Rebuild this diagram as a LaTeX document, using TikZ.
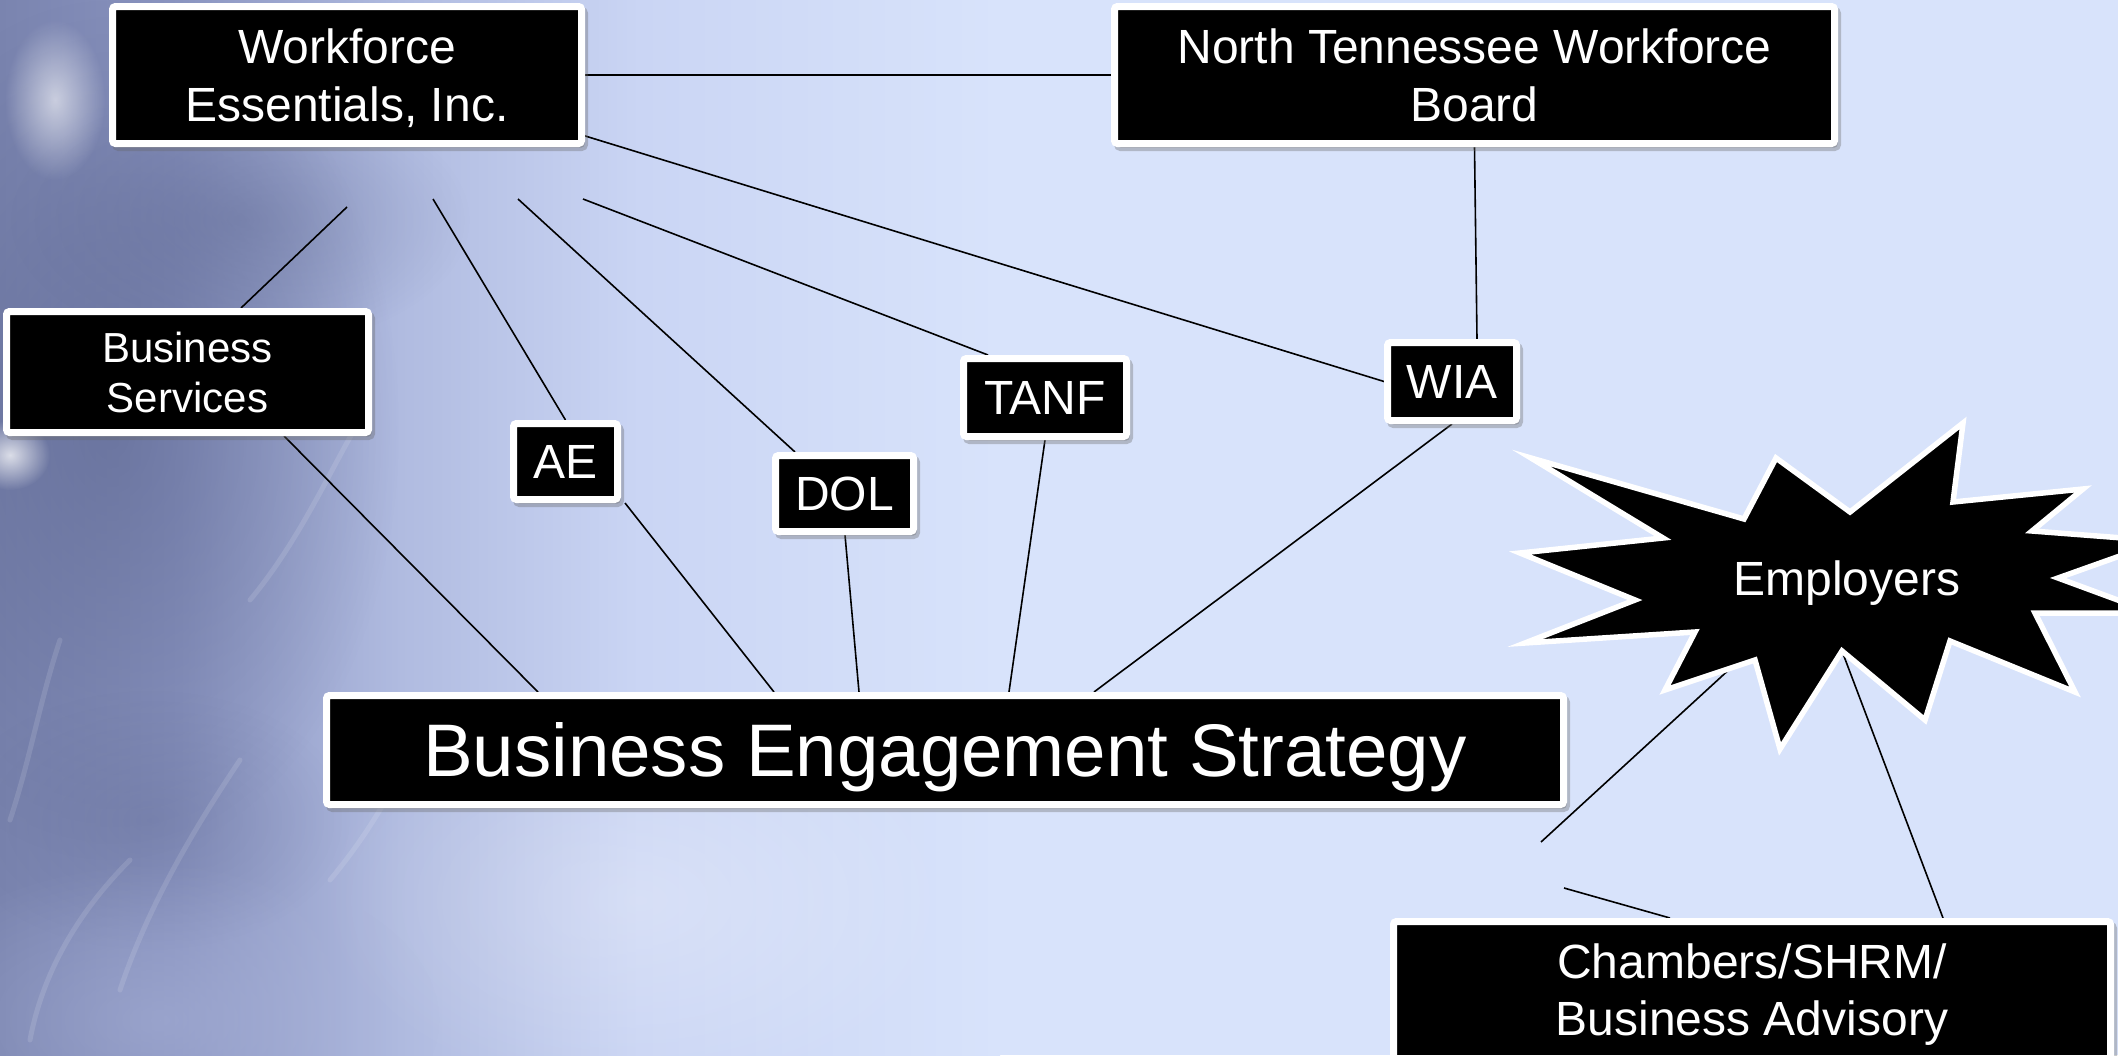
\documentclass[tikz,border=0pt]{standalone}
\usepackage{fontspec}
\setmainfont{Liberation Sans}
\usetikzlibrary{shadows,fadings,calc}

\definecolor{bgbase}{RGB}{216,227,251}
\definecolor{washA}{RGB}{122,132,175}
\definecolor{washB}{RGB}{138,148,192}
\definecolor{washC}{RGB}{176,187,224}
\definecolor{washD}{RGB}{202,213,244}
\definecolor{slate}{RGB}{88,98,140}
\definecolor{mist}{RGB}{170,180,218}

\pgfdeclarehorizontalshading{leftwash}{100bp}{color(0bp)=(washA); color(25bp)=(washA); color(34bp)=(washB); color(45bp)=(washC); color(57bp)=(washD); color(75bp)=(bgbase); color(100bp)=(bgbase)}
\tikzfading[name=softblob, inner color=transparent!0, outer color=transparent!100]

\pgfdeclarelayer{bgimg}
\pgfdeclarelayer{links}
\pgfsetlayers{bgimg,links,main}

\tikzset{
  box/.style={rectangle, rounded corners=3pt, fill=black, draw=white, line width=7pt,
    text=white, inner sep=0pt, align=center,
    font=\fontsize{48pt}{58pt}\selectfont,
    drop shadow={shadow xshift=3pt, shadow yshift=-4pt, opacity=.35, fill=black!60, draw=black!60}},
  oneline/.style={text height=34.4pt, text depth=0pt},
  twoline/.style={text depth=0pt},
  conn/.style={draw=black, line width=1.6pt},
  burst/.style={fill=black, draw=white, line width=5.5pt, line join=miter},
  texture/.style={draw=white, line width=5pt, line cap=round, opacity=.12},
}

\begin{document}
\begin{tikzpicture}[x=1pt,y=-1pt]
\useasboundingbox (0,0) rectangle (2118,1055);

% backdrop: pale blue with a darker slate wash on the left
\begin{pgfonlayer}{bgimg}
  \fill[bgbase] (0,0) rectangle (2118,1055);
  \shade[shading=leftwash] (0,0) rectangle (1000,1055);
  \fill[slate, path fading=softblob, fill opacity=.55] (110,430) ellipse (290 and 430);
  \fill[slate, path fading=softblob, fill opacity=.35] (240,220) ellipse (230 and 130);
  \fill[slate, path fading=softblob, fill opacity=.3] (150,820) ellipse (200 and 130);
  \fill[mist, path fading=softblob, fill opacity=.5] (160,1020) ellipse (280 and 160);
  \fill[white, path fading=softblob, fill opacity=.6] (55,100) ellipse (50 and 80);
  \fill[white, path fading=softblob, fill opacity=.75] (10,455) ellipse (40 and 35);
  \fill[white, path fading=softblob, fill opacity=.25] (640,900) ellipse (320 and 200);
  % faint strokes of the photo texture
  \draw[texture] (30,1040) .. controls (45,960) and (90,900) .. (130,860);
  \draw[texture] (120,990) .. controls (150,900) and (200,820) .. (240,760);
  \draw[texture] (250,600) .. controls (300,540) and (330,470) .. (360,420);
  \draw[texture] (60,640) .. controls (40,700) and (30,760) .. (10,820);
  \draw[texture] (330,880) .. controls (380,820) and (410,760) .. (430,700);
\end{pgfonlayer}

% boxes
\node[box, twoline, minimum width=469pt, minimum height=137pt] (wei) at (347,75) {Workforce\\Essentials, Inc.};
\node[box, twoline, minimum width=720pt, minimum height=137pt] (ntwb) at (1474.5,75) {North Tennessee Workforce\\Board};
\node[box, twoline, minimum width=362pt, minimum height=121pt, font=\fontsize{42pt}{50pt}\selectfont] (bs) at (187.5,372) {Business\\Services};
\node[box, oneline, minimum width=104pt, minimum height=76pt] (ae) at (565.5,461.5) {AE};
\node[box, oneline, minimum width=138pt, minimum height=76pt] (dol) at (844.5,493.5) {DOL};
\node[box, oneline, minimum width=163pt, minimum height=78pt] (tanf) at (1045,397.5) {TANF};
\node[box, oneline, minimum width=129pt, minimum height=78pt] (wia) at (1452,381.5) {WIA};
\node[box, minimum width=1237pt, minimum height=109pt, text height=53.4pt, text depth=0pt,
  font=\fontsize{74.5pt}{88pt}\selectfont] (bes) at (945,750) {Business Engagement Strategy};
\node[box, twoline, minimum width=717pt, minimum height=137pt, font=\fontsize{48pt}{57pt}\selectfont] (chm) at (1752,990) {Chambers/SHRM/\\Business Advisory};

% employers burst
\coordinate (s1) at (1531,458);  \coordinate (s2) at (1744,519);
\coordinate (s3) at (1776,458);  \coordinate (s4) at (1850,512);
\coordinate (s5) at (1963,423);  \coordinate (s6) at (1953,502);
\coordinate (s7) at (2083,489);  \coordinate (s8) at (2032,531);
\coordinate (s9) at (2162,541);  \coordinate (s10) at (2058,578);
\coordinate (s11) at (2153,613); \coordinate (s12) at (2035,613);
\coordinate (s13) at (2075,692); \coordinate (s14) at (1950,641);
\coordinate (s15) at (1925,720); \coordinate (s16) at (1842,651);
\coordinate (s17) at (1780,749); \coordinate (s18) at (1755,660);
\coordinate (s19) at (1665,690); \coordinate (s20) at (1695,632);
\coordinate (s21) at (1525,643); \coordinate (s22) at (1635,600);
\coordinate (s23) at (1520,553); \coordinate (s24) at (1663,538);
\draw[burst] (s1) -- (s2) -- (s3) -- (s4) -- (s5) -- (s6) -- (s7) -- (s8) -- (s9) -- (s10)
  -- (s11) -- (s12) -- (s13) -- (s14) -- (s15) -- (s16) -- (s17) -- (s18) -- (s19) -- (s20)
  -- (s21) -- (s22) -- (s23) -- (s24) -- cycle;
\node[text=white, inner sep=0pt, text height=34.4pt, text depth=0pt,
  font=\fontsize{48pt}{58pt}\selectfont] (emp) at (1847,578) {Employers};
\coordinate (sm) at ($(s18)!0.27!(s19)$);

% loose line ends
\coordinate (fd) at (347,207);
\coordinate (fe) at (433,199);
\coordinate (ff) at (518,199);
\coordinate (fg) at (583,199);
\coordinate (fm) at (1541,842);
\coordinate (fn) at (1564,888);

% connectors
\begin{pgfonlayer}{links}
  \draw[conn] (wei.east) -- (ntwb.west);
  \draw[conn] ($(wei.south east)+(-3,-12)$) -- (wia.west);
  \draw[conn] (ntwb.south) -- ($(wia.north)+(25,0)$);
  \draw[conn] (fd) -- ($(bs.north)+(53.5,0)$);
  \draw[conn] (fe) -- (ae.north);
  \draw[conn] (ff) -- ($(dol.north west)+(23,0)$);
  \draw[conn] (fg) -- ($(tanf.north west)+(28,0)$);
  \draw[conn] ($(bs.south)+(96.5,0)$) -- ($(bes.north west)+(215,0)$);
  \draw[conn] ($(ae.south east)+(4,0)$) -- ($(bes.north west)+(451,0)$);
  \draw[conn] ($(dol.south)+(0.5,0)$) -- ($(bes.north west)+(536,0)$);
  \draw[conn] (tanf.south) -- ($(bes.north west)+(686,0)$);
  \draw[conn] (wia.south) -- ($(bes.north west)+(771,0)$);
  \draw[conn] (fm) -- (sm);
  \draw[conn] (fn) -- ($(chm.north west)+(280,0)$);
  \draw[conn] (s16) -- ($(chm.north west)+(553,0)$);
\end{pgfonlayer}
\end{tikzpicture}
\end{document}
